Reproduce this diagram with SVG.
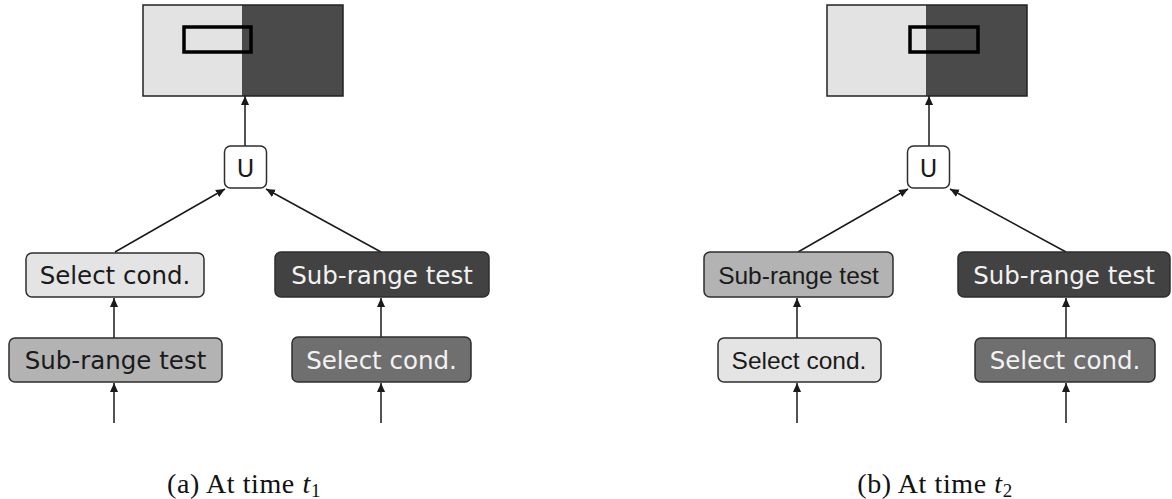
<svg xmlns="http://www.w3.org/2000/svg" width="1172" height="499" viewBox="0 0 1172 499">
<defs>
<marker id="ah" viewBox="0 0 10 10" refX="10" refY="5" markerWidth="9" markerHeight="9" markerUnits="userSpaceOnUse" orient="auto">
<path d="M0,0.5 L10,5 L0,9.5 z" fill="#1a1a1a"/>
</marker>
<style>
.box{stroke:#2e2e2e;stroke-width:1.5}
.light{fill:#e4e4e4}
.med{fill:#b3b3b3}
.dark{fill:#424242}
.dmed{fill:#6f6f6f}
.ubox{fill:#ffffff}
.dv{font-family:"DejaVu Sans",Verdana,sans-serif;font-size:24.5px;text-anchor:middle}
.ar{font-family:"Liberation Sans",Arial,sans-serif;font-size:24.5px;text-anchor:middle}
.bk{fill:#1a1a1a}
.wh{fill:#f2f2f2}
.cn{stroke:#1a1a1a;stroke-width:1.5;fill:none;marker-end:url(#ah)}
.cap{font-family:"Liberation Serif","Times New Roman",serif;font-size:28px;letter-spacing:0.6px;fill:#111;text-anchor:middle}
.win{fill:none;stroke:#000;stroke-width:3.5}
</style>
</defs>
<rect width="1172" height="499" fill="#ffffff"/>

<g id="connectors">
<line class="cn" x1="114" y1="423" x2="114" y2="383"/>
<line class="cn" x1="114" y1="338" x2="114" y2="298"/>
<line class="cn" x1="381" y1="423" x2="381" y2="383"/>
<line class="cn" x1="381" y1="337" x2="381" y2="298"/>
<line class="cn" x1="115" y1="252" x2="225" y2="189"/>
<line class="cn" x1="381" y1="252" x2="266" y2="189"/>
<line class="cn" x1="245" y1="146" x2="245" y2="96"/>

<line class="cn" x1="797" y1="423" x2="797" y2="383"/>
<line class="cn" x1="797" y1="338" x2="797" y2="298"/>
<line class="cn" x1="1066" y1="423" x2="1066" y2="383"/>
<line class="cn" x1="1066" y1="338" x2="1066" y2="298"/>
<line class="cn" x1="798" y1="252" x2="908" y2="189"/>
<line class="cn" x1="1066" y1="252" x2="950" y2="189"/>
<line class="cn" x1="929" y1="146" x2="929" y2="96"/>
</g>

<g id="a-image">
<rect x="143" y="5" width="99" height="91" fill="#e3e3e3"/>
<rect x="242" y="5" width="101" height="91" fill="#4a4a4a"/>
<rect x="143" y="5" width="200" height="91" fill="none" stroke="#222" stroke-width="1.5"/>
<rect class="win" x="184" y="27" width="67" height="25"/>
</g>
<g id="a-union">
<rect class="box ubox" x="224.5" y="146" width="42" height="42" rx="6"/>
<text class="dv bk" x="245.5" y="177" style="font-size:24px">U</text>
</g>
<g id="a-select-left">
<rect class="box light" x="26" y="253" width="178" height="44" rx="6"/>
<text class="dv bk" x="115" y="284">Select cond.</text>
</g>
<g id="a-subrange-left">
<rect class="box med" x="9" y="338" width="213" height="44" rx="6"/>
<text class="dv bk" x="115.5" y="369">Sub-range test</text>
</g>
<g id="a-subrange-right">
<rect class="box dark" x="275" y="252" width="214" height="45" rx="6"/>
<text class="dv wh" x="382" y="284">Sub-range test</text>
</g>
<g id="a-select-right">
<rect class="box dmed" x="292" y="337" width="179" height="45" rx="6"/>
<text class="dv wh" x="381.5" y="369">Select cond.</text>
</g>

<g id="b-image">
<rect x="827" y="5" width="99" height="91" fill="#e3e3e3"/>
<rect x="926" y="5" width="101" height="91" fill="#4a4a4a"/>
<rect x="827" y="5" width="200" height="91" fill="none" stroke="#222" stroke-width="1.5"/>
<rect class="win" x="910" y="27" width="68" height="25"/>
</g>
<g id="b-union">
<rect class="box ubox" x="907.5" y="146" width="42" height="42" rx="6"/>
<text class="dv bk" x="928.5" y="177" style="font-size:24px">U</text>
</g>
<g id="b-subrange-left">
<rect class="box med" x="704" y="252" width="189" height="45" rx="6"/>
<text class="ar bk" x="798.5" y="284">Sub-range test</text>
</g>
<g id="b-select-left">
<rect class="box light" x="718" y="338" width="163" height="44" rx="6"/>
<text class="ar bk" x="799" y="369">Select cond.</text>
</g>
<g id="b-subrange-right">
<rect class="box dark" x="958" y="252" width="212" height="45" rx="6"/>
<text class="dv wh" x="1064" y="284">Sub-range test</text>
</g>
<g id="b-select-right">
<rect class="box dmed" x="975" y="338" width="180" height="44" rx="6"/>
<text class="dv wh" x="1065" y="369">Select cond.</text>
</g>

<g id="captions">
<text class="cap" x="244" y="493">(a) At time <tspan font-style="italic">t</tspan><tspan font-size="19" dy="4">1</tspan></text>
<text class="cap" x="935" y="493">(b) At time <tspan font-style="italic">t</tspan><tspan font-size="19" dy="4">2</tspan></text>
</g>
</svg>
